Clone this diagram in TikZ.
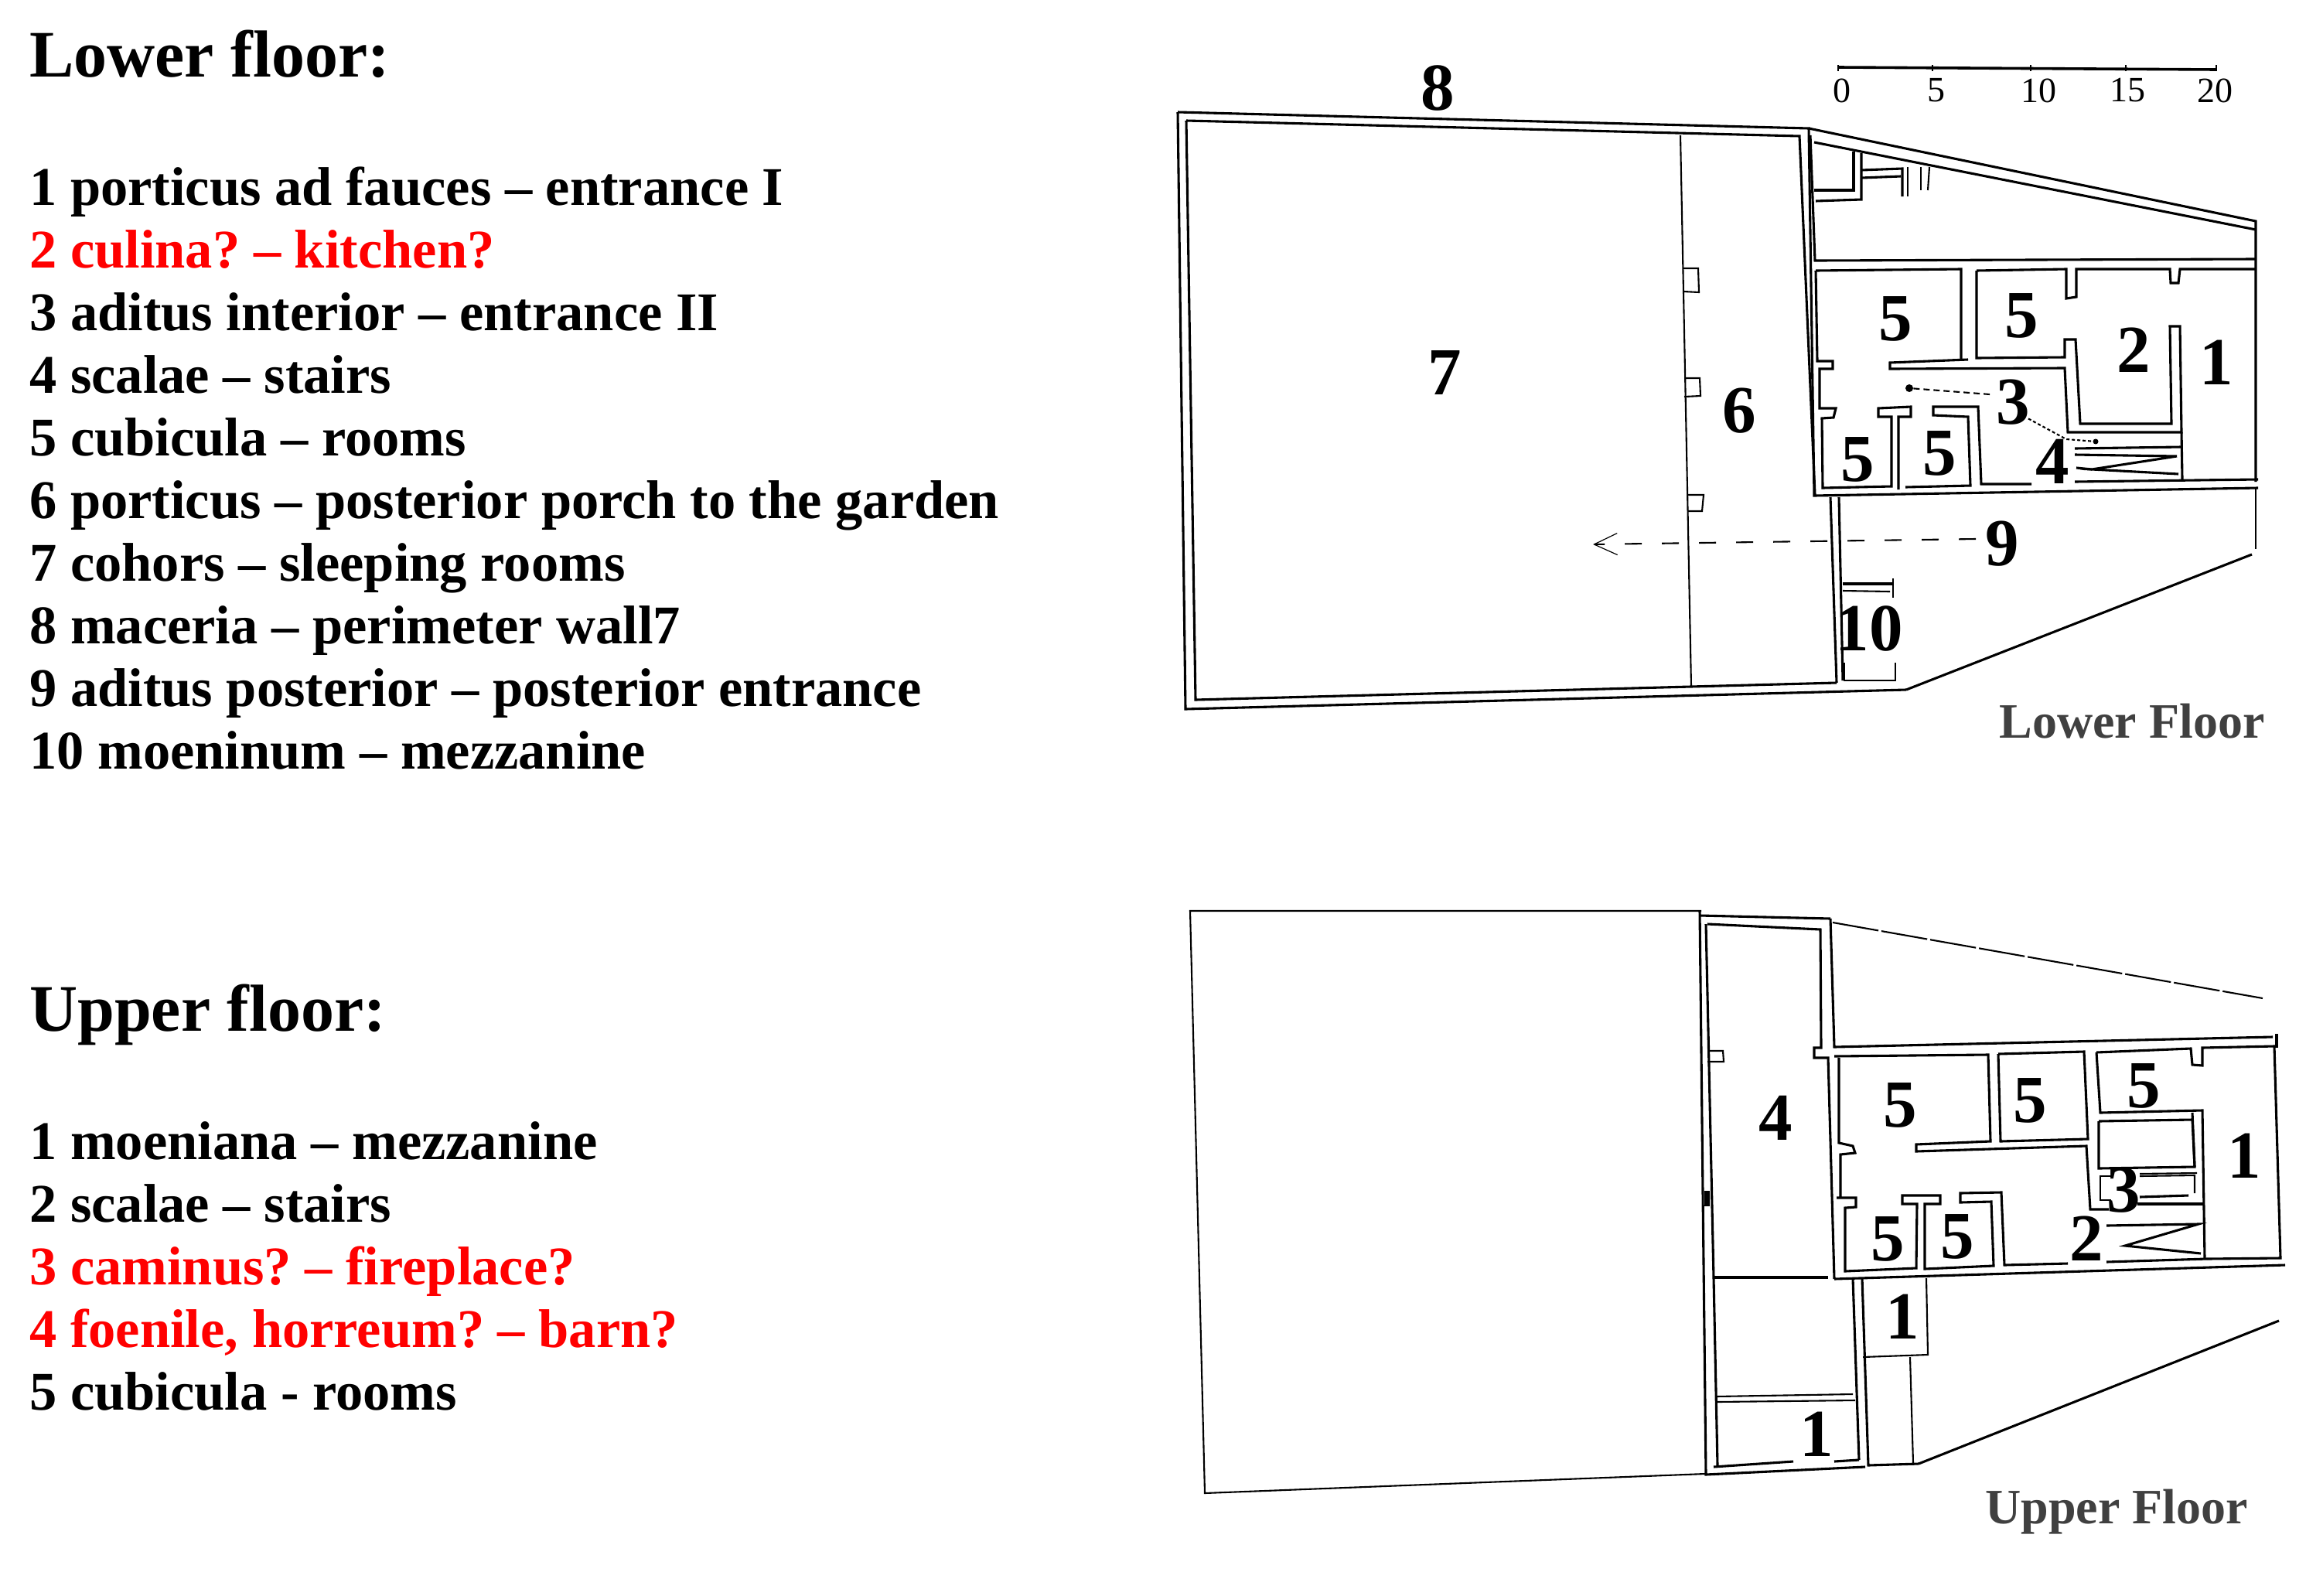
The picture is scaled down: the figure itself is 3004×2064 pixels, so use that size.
\documentclass[tikz,border=0pt]{standalone}
\usepackage{fontspec}
\setmainfont{Liberation Serif}
\usetikzlibrary{arrows.meta}
\frenchspacing
\tikzset{
 wall/.style={draw=black,line width=3.1pt,line join=miter},
 fine/.style={draw=black,line width=2.1pt},
 txt/.style={anchor=base west,inner sep=0pt,font=\fontsize{70.5}{70.5}\selectfont\bfseries,text=black},
 redtxt/.style={txt,text=red},
 head/.style={txt,font=\fontsize{86}{86}\selectfont\bfseries},
 num/.style={anchor=center,inner sep=0pt,font=\fontsize{87}{87}\selectfont\bfseries},
 snum/.style={anchor=center,inner sep=0pt,font=\fontsize{46}{46}\selectfont},
 floorcap/.style={anchor=center,inner sep=0pt,text=black!75,font=\fontsize{64}{64}\selectfont\bfseries}
}
\begin{document}
\begin{tikzpicture}[x=1pt,y=-1pt]
\useasboundingbox[fill=white] (0,0) rectangle (3004,2064);
% texts
\node[head] (t0) at (38,99) {Lower floor:};
\node[txt] (t1) at (38,265) {1 porticus ad fauces – entrance I};
\node[redtxt] (t2) at (38,346) {2 culina? – kitchen?};
\node[txt] (t3) at (38,427) {3 aditus interior – entrance II};
\node[txt] (t4) at (38,508) {4 scalae – stairs};
\node[txt] (t5) at (38,589) {5 cubicula – rooms};
\node[txt] (t6) at (38,670) {6 porticus – posterior porch to the garden};
\node[txt] (t7) at (38,751) {7 cohors – sleeping rooms};
\node[txt] (t8) at (38,832) {8 maceria – perimeter wall7};
\node[txt] (t9) at (38,913) {9 aditus posterior – posterior entrance};
\node[txt] (t10) at (38,994) {10 moeninum – mezzanine};
\node[head] (u0) at (38,1333) {Upper floor:};
\node[txt] (u1) at (38,1499) {1 moeniana – mezzanine};
\node[txt] (u2) at (38,1580) {2 scalae – stairs};
\node[redtxt] (u3) at (38,1661) {3 caminus? – fireplace?};
\node[redtxt] (u4) at (38,1742) {4 foenile, horreum? – barn?};
\node[txt] (u5) at (38,1823) {5 cubicula - rooms};

% ---------- LOWER PLAN ----------
\draw[wall] (1523,145) -- (2339,166) -- (2346,641) -- (2920,631);
\draw[wall] (1523,145) -- (1533,917) -- (2465,892);
\draw[wall] (1534,156) -- (2327,176) -- (2347,640);
\draw[wall] (1534,156) -- (1546,905) -- (2375,883);
\draw[fine] (2173,175) -- (2187,888);
\draw[fine] (2177,347) -- (2196,347) -- (2197,378) -- (2177,377);
\draw[fine] (2178,489) -- (2198,489) -- (2199,512) -- (2178,513);
\draw[fine] (2182,640) -- (2203,640) -- (2201,661) -- (2183,661);
% wing outer
\draw[wall] (2339,166) -- (2917,286) -- (2917,623);
\draw[wall] (2346,184) -- (2917,297);
\draw[wall] (2341,175) -- (2347,337) -- (2917,335);
\draw[fine] (2917,631) -- (2917,710);
\draw[wall] (2912,717) -- (2465,892);
% corridor lower line
\draw[wall] (2348,350) -- (2536,348) -- (2536,465);
\draw[wall] (2556,350) -- (2672,348) -- (2672,386) -- (2685,384) -- (2685,348) -- (2806,348) -- (2807,366) -- (2817,366) -- (2819,348) -- (2917,348);
% room left side with stubs
\draw[wall] (2348,350) -- (2350,467) -- (2370,467) -- (2370,477) -- (2353,477) -- (2353,528) -- (2374,528) -- (2371,540) -- (2356,541) -- (2357,631) -- (2446,629) -- (2446,539) -- (2429,539) -- (2429,528) -- (2471,526) -- (2471,539) -- (2455,539) -- (2455,633);
\draw[wall] (2464,630) -- (2548,628) -- (2545,539) -- (2500,537) -- (2500,526) -- (2558,526) -- (2562,626) -- (2627,626);
\draw[wall] (2683,623) -- (2920,620);
% partition and room 2
\draw[wall] (2545,465) -- (2444,469) -- (2444,477) -- (2670,476) -- (2674,559) -- (2821,559) -- (2819,422) -- (2806,422) -- (2808,548) -- (2690,548) -- (2684,439) -- (2670,439) -- (2670,462) -- (2556,463) -- (2556,350);
% stairs
\draw[wall] (2821,559) -- (2822,620);
\draw[wall] (2683,580) -- (2821,578);
\draw[wall] (2683,588) -- (2815,590) -- (2705,607) -- (2817,613);
\draw[wall] (2685,605) -- (2705,607);
% top-left small rooms
\draw[wall] (2346,246) -- (2397,246) -- (2397,196);
\draw[wall] (2348,260) -- (2407,258) -- (2407,198);
\draw[wall] (2407,220) -- (2460,218) -- (2460,254);
\draw[wall] (2407,230) -- (2458,228);
\draw[fine] (2467,216) -- (2467,254);
\draw[fine] (2484,216) -- (2484,246);
\draw[fine] (2495,216) -- (2493,246);
% south annex
\draw[wall] (2367,643) -- (2375,883);
\draw[wall] (2378,643) -- (2383,880);
\draw[wall] (2383,755) -- (2448,755);
\draw[fine] (2383,764) -- (2444,765);
\draw[fine] (2448,748) -- (2448,773);
\draw[fine] (2385,857) -- (2385,880) -- (2451,880) -- (2451,857);
% labels
\node[num] (l8) at (1859,114) {8};
\node[num] (l7) at (1868,482) {7};
\node[num] (l6) at (2249,531) {6};
\node[num] (l5a) at (2451,412) {5};
\node[num] (l5b) at (2614,408) {5};
\node[num] (l2) at (2759,453) {2};
\node[num] (l1) at (2866,469) {1};
\node[num] (l3) at (2603,520) {3};
\node[num] (l4) at (2654,597) {4};
\node[num] (l5c) at (2402,594) {5};
\node[num] (l5d) at (2508,586) {5};
\node[num] (l9) at (2589,703) {9};
\node[num] (l10) at (2417,813) {10};
% pointers
\coordinate (d1) at (2469,502);
\coordinate (d2) at (2710,571);
\coordinate (k2) at (2672,568);
\fill (d1) circle (5pt);
\fill (d2) circle (3.5pt);
\draw[fine,dash pattern=on 8pt off 5pt] (l3.west) ++(-8,-10) -- (d1);
\draw[fine,dash pattern=on 4pt off 3pt] (l3.south east) ++(-2,-8) -- (k2) -- (d2);
\coordinate (arrowend) at (2060,704);
\draw[fine,dash pattern=on 22pt off 26pt,-{Straight Barb[length=30pt,width=28pt,line width=1.2pt]}] (l9.west) ++(-12,-6) -- (arrowend);
% scale
\draw[line width=3.6pt] (2377,87) -- (2866,90);
\foreach \xx/\nm in {2377/a,2499/b,2626/c,2749/d,2866/e}{
  \draw[line width=2.5pt] (\xx,84) -- (\xx,92);
}
\node[snum] (s0) at (2382,117) {0};
\node[snum] (s5) at (2504,117) {5};
\node[snum] (s10) at (2636,117) {10};
\node[snum] (s15) at (2751,117) {15};
\node[snum] (s20) at (2864,117) {20};
\node[floorcap] (lf) at (2757,933) {Lower Floor};

% ---------- UPPER PLAN ----------
\draw[fine] (2200,1178) -- (1539,1178) -- (1558,1931) -- (2205,1906);
\draw[wall] (2198,1184) -- (2367,1188);
\draw[fine,dash pattern=on 60pt off 4pt] (2370,1193) -- (2926,1291);
\draw[wall] (2198,1178) -- (2206,1907) -- (2412,1897);
\draw[wall] (2206,1195) -- (2216,1653) -- (2221,1895);
\draw[wall] (2216,1897) -- (2319,1890);
\draw[wall] (2372,1890) -- (2404,1888);
\draw[wall] (2208,1195) -- (2354,1202) -- (2355,1355) -- (2346,1355) -- (2346,1368) -- (2364,1368) -- (2372,1654);
\draw[wall] (2367,1188) -- (2372,1354) -- (2939,1341);
\draw[wall] (2216,1652) -- (2364,1652);
\draw[fine] (2208,1359) -- (2228,1359) -- (2229,1373) -- (2208,1373);
\fill (2204,1540) rectangle (2211,1560);
\draw[wall] (2944,1337) -- (2944,1355);
\draw[wall] (2372,1366) -- (2571,1364) -- (2574,1476) -- (2478,1480) -- (2478,1489) -- (2698,1482) -- (2703,1564) -- (2727,1564);
\draw[wall] (2584,1363) -- (2587,1476) -- (2700,1473) -- (2695,1360) -- (2584,1363);
\draw[wall] (2711,1361) -- (2833,1356) -- (2835,1377) -- (2848,1378) -- (2848,1355) -- (2941,1353) -- (2949,1627) -- (2854,1628);
\draw[wall] (2372,1654) -- (2955,1636);
\draw[wall] (2378,1368) -- (2378,1478) -- (2396,1482) -- (2399,1491) -- (2380,1493) -- (2380,1549) -- (2375,1549) -- (2400,1549) -- (2400,1561) -- (2386,1562) -- (2386,1644) -- (2478,1640) -- (2479,1557) -- (2460,1557) -- (2460,1546) -- (2509,1546) -- (2509,1557) -- (2489,1557) -- (2489,1641) -- (2578,1637) -- (2575,1554) -- (2535,1555) -- (2535,1543) -- (2588,1542) -- (2592,1636) -- (2674,1634);
\draw[wall] (2724,1632) -- (2854,1628);
\draw[wall] (2711,1361) -- (2716,1439) -- (2848,1436) -- (2851,1628);
\draw[wall] (2764,1557) -- (2851,1557);
\draw[wall] (2714,1450) -- (2835,1448) -- (2838,1509) -- (2714,1511) -- (2714,1450);
\draw[wall] (2835,1439) -- (2838,1509);
\draw[fine] (2767,1518) -- (2841,1517);
\draw[fine] (2767,1521) -- (2838,1520) -- (2838,1543);
\draw[wall] (2767,1548) -- (2830,1546);
\draw[fine] (2730,1521) -- (2716,1521) -- (2716,1552) -- (2730,1552);
\draw[wall] (2724,1585) -- (2843,1583) -- (2748,1611) -- (2846,1621);
% south annex upper
\draw[wall] (2396,1653) -- (2404,1888);
\draw[wall] (2408,1653) -- (2416,1895) -- (2481,1893);
\draw[fine] (2491,1653) -- (2493,1752) -- (2409,1755);
\draw[fine] (2470,1755) -- (2474,1892);
\draw[wall] (2481,1893) -- (2947,1708);
\draw[fine] (2219,1806) -- (2396,1803);
\draw[fine] (2221,1813) -- (2399,1811);
% labels
\node[num] (m4) at (2296,1446) {4};
\node[num] (m5a) at (2457,1429) {5};
\node[num] (m5b) at (2625,1423) {5};
\node[num] (m5c) at (2772,1404) {5};
\node[num] (m1a) at (2902,1495) {1};
\node[num] (m3) at (2746,1539) {3};
\node[num] (m2) at (2698,1602) {2};
\node[num] (m5d) at (2441,1602) {5};
\node[num] (m5e) at (2531,1599) {5};
\node[num] (m1b) at (2460,1703) {1};
\node[num] (m1c) at (2349,1855) {1};
\node[floorcap] (uf) at (2737,1955) {Upper Floor};
\end{tikzpicture}
\end{document}
